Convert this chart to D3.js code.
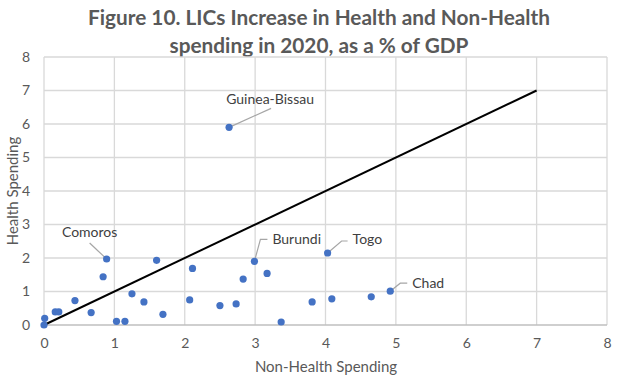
<!DOCTYPE html>
<html><head><meta charset="utf-8">
<script src="https://cdn.jsdelivr.net/npm/d3@7"></script>
<style>body{margin:0;background:#fff}svg{display:block}</style>
</head><body><svg id="c" width="636" height="378"></svg>
<script>
const titleLines = ["Figure 10. LICs Increase in Health and Non-Health", "spending in 2020, as a % of GDP"];
const xTicks = [0,1,2,3,4,5,6,7,8];
const yTicks = [0,1,2,3,4,5,6,7,8];
const nonHealth = [0,0.01,0.16,0.21,0.44,0.67,0.84,0.89,1.03,1.15,1.25,1.42,1.6,1.69,2.07,2.11,2.5,2.63,2.73,2.83,2.99,3.17,3.37,3.81,4.03,4.09,4.65,4.92];
const health    = [0,0.2,0.39,0.39,0.73,0.37,1.44,1.97,0.11,0.11,0.93,0.69,1.93,0.32,0.75,1.69,0.58,5.9,0.63,1.37,1.9,1.54,0.09,0.69,2.15,0.78,0.84,1.01];
const countries = ["","","","","","","","Comoros","","","","","","","","","","Guinea-Bissau","","","Burundi","","","","Togo","","","Chad"];
const lineX = [0,7];
const lineY = [0,7];
// label offsets (px) relative to the point: leader path pts and text anchor
const labelCfg = {
  "Guinea-Bissau": {leader:[[42,-19]], text:[41,-23], anchor:"middle"},
  "Comoros": {leader:[[-17,-16]], text:[-17,-22], anchor:"middle"},
  "Burundi": {leader:[[6,-22],[13,-22]], text:[18,-17], anchor:"start"},
  "Togo": {leader:[[14,-12],[20,-12]], text:[25,-9], anchor:"start"},
  "Chad": {leader:[[10,-8],[17,-8]], text:[22,-3], anchor:"start"}
};

const svg = d3.select("#c");
const x = d3.scaleLinear().domain([0,8]).range([44,607]);
const y = d3.scaleLinear().domain([0,8]).range([325,57]);
const font = "Lato, 'Open Sans', sans-serif";

svg.append("g").selectAll("text").data(titleLines).join("text")
  .attr("x",319).attr("y",(d,i)=>25+i*28).attr("text-anchor","middle")
  .attr("font-family",font).attr("font-weight","bold").attr("font-size",20.8)
  .attr("fill","#595959").text(d=>d);

// grid
const grid = svg.append("g");
grid.selectAll("line.h").data(yTicks.filter(d=>d>0)).join("line")
  .attr("x1",x(0)).attr("x2",x(8)).attr("y1",d=>y(d)).attr("y2",d=>y(d))
  .attr("stroke","#d9d9d9").attr("stroke-width",1.3);
grid.selectAll("line.v").data(xTicks).join("line")
  .attr("y1",y(0)).attr("y2",y(8)).attr("x1",d=>x(d)).attr("x2",d=>x(d))
  .attr("stroke","#d9d9d9").attr("stroke-width",1.3);
grid.append("line").attr("x1",x(0)).attr("x2",x(8)).attr("y1",y(0)).attr("y2",y(0))
  .attr("stroke","#bfbfbf").attr("stroke-width",1.3);

// axes tick labels
const xAxis = svg.append("g").attr("transform",`translate(0,${y(0)})`)
  .call(d3.axisBottom(x).tickValues(xTicks).tickSize(0).tickPadding(13).tickFormat(d3.format("d")));
const yAxis = svg.append("g").attr("transform",`translate(${x(0)-12},0)`)
  .call(d3.axisLeft(y).tickValues(yTicks).tickSize(0).tickPadding(2).tickFormat(d3.format("d")));
[xAxis,yAxis].forEach(a=>{
  a.select(".domain").remove();
  a.selectAll("text").attr("font-family",font).attr("font-size",14).attr("fill","#595959");
});

svg.append("text").attr("x",326).attr("y",372).attr("text-anchor","middle")
  .attr("font-family",font).attr("font-size",15).attr("fill","#595959").text("Non-Health Spending");
svg.append("text").attr("transform",`translate(18,${(y(0)+y(8))/2}) rotate(-90)`).attr("text-anchor","middle")
  .attr("font-family",font).attr("font-size",15).attr("fill","#595959").text("Health Spending");

// 45-degree line
svg.append("path").datum(lineX.map((d,i)=>[d,lineY[i]]))
  .attr("d",d3.line().x(d=>x(d[0])).y(d=>y(d[1])))
  .attr("stroke","#000").attr("stroke-width",2).attr("fill","none");

const pts = nonHealth.map((d,i)=>({x:d,y:health[i],name:countries[i]}));

// leaders & labels
const lab = svg.append("g");
pts.filter(p=>p.name).forEach(p=>{
  const c = labelCfg[p.name];
  const px = x(p.x), py = y(p.y);
  const path = [[px,py]].concat(c.leader.map(o=>[px+o[0],py+o[1]]));
  lab.append("path").attr("d",d3.line()(path)).attr("stroke","#a6a6a6").attr("stroke-width",1.2).attr("fill","none");
  lab.append("text").attr("x",px+c.text[0]).attr("y",py+c.text[1]).attr("text-anchor",c.anchor)
    .attr("font-family",font).attr("font-size",14).attr("fill","#404040").text(p.name);
});

svg.append("g").selectAll("circle").data(pts).join("circle")
  .attr("cx",d=>x(d.x)).attr("cy",d=>y(d.y)).attr("r",3.6).attr("fill","#4472c4");
</script></body></html>
